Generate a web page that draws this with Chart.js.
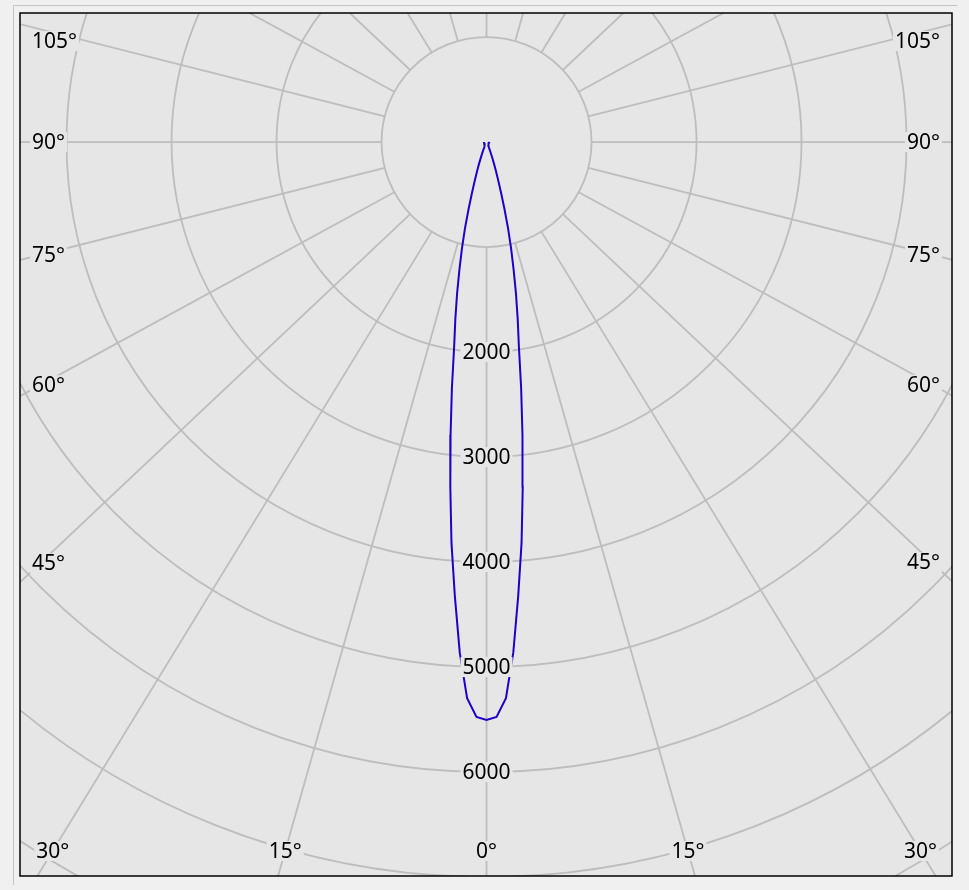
<!DOCTYPE html>
<html>
<head>
<meta charset="utf-8">
<script src="https://cdn.jsdelivr.net/npm/chart.js@4.4.1/dist/chart.umd.min.js"></script>
<style>
  body { margin: 0; background: #f0f0f0; }
  canvas { display: block; }
</style>
</head>
<body>
<canvas id="polarChart" width="969" height="890"></canvas>
<script>
// luminous intensity (cd) against angle from nadir (same both sides)
var angles = [0, 1, 2, 3, 4, 5, 6, 7, 8, 9, 10, 11, 12, 13, 14, 15, 16, 17, 18, 19, 20, 22, 25, 30, 40, 50, 60, 70, 80, 90];
var intensity = [5505, 5475, 5300, 4870, 4330, 3830, 3300, 2810, 2370, 1970, 1710, 1470, 1240, 1040, 850, 660, 500, 380, 290, 220, 160, 90, 45, 30, 25, 25, 25, 25, 25, 25];

var rings = [1000, 2000, 3000, 4000, 5000, 6000, 7000, 8000];
var ringLabels = [2000, 3000, 4000, 5000, 6000];
var spokeAngles = [0, 15, 30, 45, 60, 75, 90, 105, 120, 135, 150, 165, 180, 195, 210, 225, 240, 255, 270, 285, 300, 315, 330, 345];
var angleLabels = [0, 15, 30, 45, 60, 75, 90, 105];

// spokes in the original come out a bit wider than the rings
var SPOKE_STRETCH = 1.06;
var PLOT_BG = '#e6e6e6';
var FONT = '21px "Noto Sans"';

// build the curve: left half (90 -> 0) then right half (0 -> 90)
var curve = [];
for (var i = angles.length - 1; i >= 0; i--) {
    var t = angles[i] * Math.PI / 180;
    curve.push({ x: -intensity[i] * Math.sin(t), y: -intensity[i] * Math.cos(t) });
}
for (var j = 1; j < angles.length; j++) {
    var t2 = angles[j] * Math.PI / 180;
    curve.push({ x: intensity[j] * Math.sin(t2), y: -intensity[j] * Math.cos(t2) });
}

function tag(ctx, text, x, y, align) {
    ctx.font = FONT;
    var w = ctx.measureText(text).width;
    var left = align === 'left' ? x : (align === 'right' ? x - w : x - w / 2);
    ctx.fillStyle = PLOT_BG;
    ctx.fillRect(left - 2, y - 10, w + 4, 20);
    ctx.fillStyle = '#000';
    ctx.textAlign = align;
    ctx.textBaseline = 'middle';
    ctx.fillText(text, x, y + 1);
}

const polarGrid = {
    id: 'polarGrid',
    beforeDraw(chart) {
        const ctx = chart.ctx;
        ctx.save();
        ctx.strokeStyle = '#c4c4c4';
        ctx.lineWidth = 1;
        ctx.beginPath();
        ctx.moveTo(13.5, 885);
        ctx.lineTo(13.5, 5.5);
        ctx.lineTo(957, 5.5);
        ctx.stroke();
        ctx.restore();
    },
    beforeDatasetsDraw(chart) {
        const ctx = chart.ctx, a = chart.chartArea;
        const xs = chart.scales.x, ys = chart.scales.y;
        const cx = xs.getPixelForValue(0), cy = ys.getPixelForValue(0);
        const unit = xs.getPixelForValue(1) - cx;
        ctx.save();
        ctx.fillStyle = PLOT_BG;
        ctx.fillRect(a.left, a.top, a.right - a.left, a.bottom - a.top);
        ctx.beginPath();
        ctx.rect(a.left, a.top, a.right - a.left, a.bottom - a.top);
        ctx.clip();
        ctx.strokeStyle = '#bdbdbd';
        ctx.lineWidth = 1.8;
        rings.forEach(function (r) {
            ctx.beginPath();
            ctx.arc(cx, cy, r * unit, 0, Math.PI * 2);
            ctx.stroke();
        });
        const r0 = rings[0] * unit, r1 = 2000;
        spokeAngles.forEach(function (d) {
            const t = d * Math.PI / 180;
            let dx = SPOKE_STRETCH * Math.sin(t), dy = Math.cos(t);
            const n = Math.hypot(dx, dy);
            dx /= n; dy /= n;
            ctx.beginPath();
            ctx.moveTo(cx + dx * r0, cy + dy * r0);
            ctx.lineTo(cx + dx * r1, cy + dy * r1);
            ctx.stroke();
        });
        ctx.restore();
    },
    afterDatasetsDraw(chart) {
        const ctx = chart.ctx, a = chart.chartArea;
        const xs = chart.scales.x, ys = chart.scales.y;
        const cx = xs.getPixelForValue(0), cy = ys.getPixelForValue(0);
        ctx.save();
        ringLabels.forEach(function (r) {
            tag(ctx, String(r), cx, ys.getPixelForValue(-r), 'center');
        });
        const bottomY = a.bottom - 25, topY = a.top + 28;
        angleLabels.forEach(function (d) {
            const t = d * Math.PI / 180;
            const sx = SPOKE_STRETCH * Math.sin(t), sy = Math.cos(t);
            [-1, 1].forEach(function (side) {
                if (d === 0 && side > 0) return;
                if (d <= 30) {
                    const x = cx + side * (bottomY - cy) * sx / sy;
                    tag(ctx, d + '°', x, bottomY, 'center');
                } else {
                    const xe = side < 0 ? a.left + 20 : a.right - 20;
                    let y = cy + Math.abs(xe - cx) * sy / sx;
                    y = Math.max(topY, Math.min(bottomY, y));
                    if (side < 0) tag(ctx, d + '°', a.left + 12, y, 'left');
                    else tag(ctx, d + '°', a.right - 12, y, 'right');
                }
            });
        });
        ctx.strokeStyle = '#000';
        ctx.lineWidth = 1.5;
        ctx.strokeRect(a.left, a.top, a.right - a.left, a.bottom - a.top);
        ctx.restore();
    }
};

const ctx = document.getElementById('polarChart').getContext('2d');
const polarChart = new Chart(ctx, {
    type: 'scatter',
    data: {
        datasets: [{
            label: 'Intensity',
            data: curve,
            showLine: true,
            borderColor: '#2000c8',
            borderWidth: 2,
            pointRadius: 0,
            tension: 0
        }]
    },
    options: {
        responsive: false,
        animation: false,
        devicePixelRatio: 1,
        layout: { padding: { left: 20, top: 13, right: 17, bottom: 14 } },
        scales: {
            x: { type: 'linear', display: false, min: -4443, max: 4433 },
            y: { type: 'linear', display: false, min: -6990, max: 1229 }
        },
        plugins: {
            legend: { display: false },
            tooltip: { enabled: false }
        }
    },
    plugins: [polarGrid]
});
</script>
</body>
</html>
